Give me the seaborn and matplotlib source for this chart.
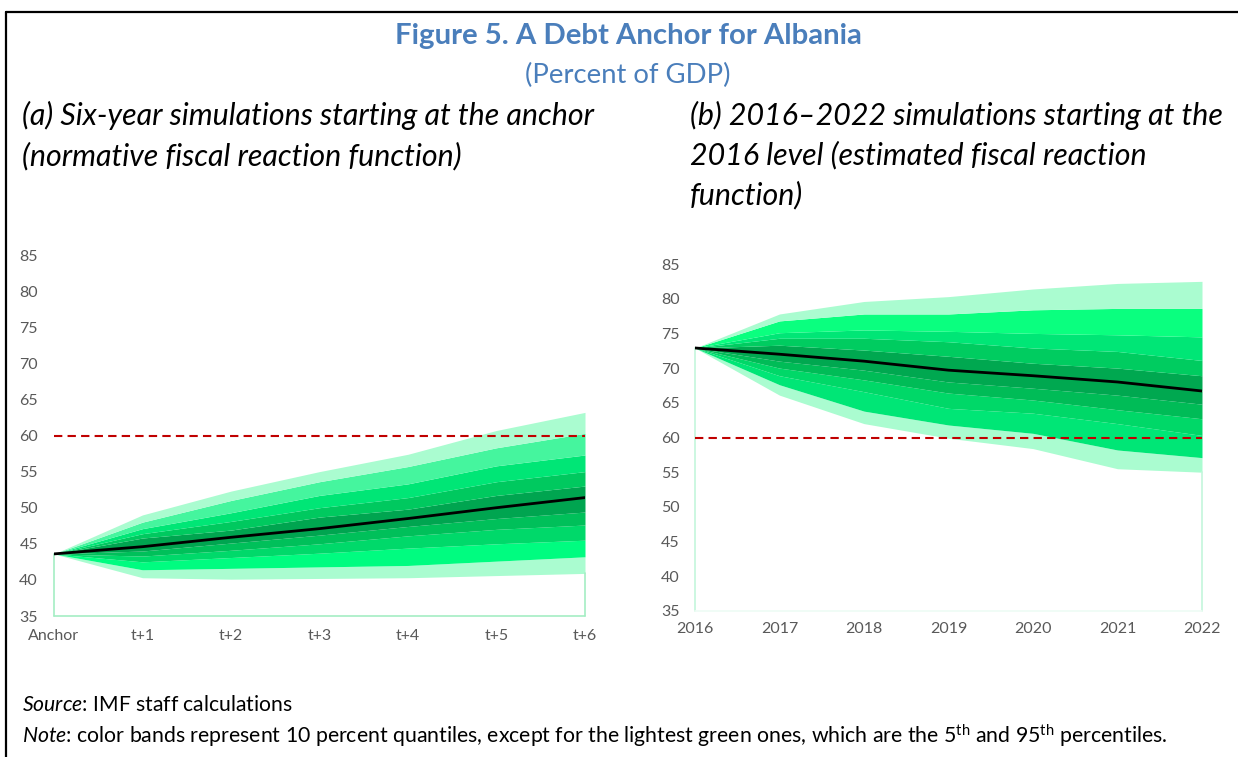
import matplotlib
matplotlib.use("Agg")
import matplotlib.pyplot as plt
from matplotlib.lines import Line2D
import seaborn as sns

# ---- Panel (a): six-year simulations from the anchor (percent of GDP) ----
a_labels = ["Anchor", "t+1", "t+2", "t+3", "t+4", "t+5", "t+6"]
a_p05 = [43.6, 40.3, 40.1, 40.2, 40.3, 40.6, 40.9]
a_p10 = [43.6, 41.4, 41.6, 41.8, 42.0, 42.6, 43.2]
a_p20 = [43.6, 42.5, 43.1, 43.7, 44.4, 45.0, 45.5]
a_p30 = [43.6, 43.3, 44.1, 45.0, 46.1, 47.0, 47.6]
a_p40 = [43.6, 44.0, 45.1, 46.2, 47.4, 48.5, 49.4]
a_p50 = [43.6, 44.6, 45.9, 47.1, 48.5, 50.0, 51.4]
a_p60 = [43.6, 45.8, 46.9, 48.7, 49.8, 51.7, 53.0]
a_p70 = [43.6, 46.4, 48.1, 50.0, 51.4, 53.6, 55.0]
a_p80 = [43.6, 47.1, 49.3, 51.7, 53.3, 55.8, 57.3]
a_p90 = [43.6, 48.0, 51.0, 53.6, 55.7, 58.3, 60.3]
a_p95 = [43.6, 49.0, 52.3, 55.0, 57.4, 60.7, 63.2]

# ---- Panel (b): 2016-2022 simulations from the 2016 level ----
b_labels = ["2016", "2017", "2018", "2019", "2020", "2021", "2022"]
b_p05 = [72.9, 66.1, 62.0, 59.9, 58.4, 55.5, 55.0]
b_p10 = [72.9, 67.6, 63.8, 61.8, 60.6, 58.2, 57.1]
b_p20 = [72.9, 68.9, 66.6, 64.2, 63.5, 62.0, 60.3]
b_p30 = [72.9, 70.0, 68.3, 66.4, 65.4, 64.0, 62.7]
b_p40 = [72.9, 71.0, 69.7, 68.0, 67.1, 66.1, 64.8]
b_p50 = [72.9, 72.0, 71.0, 69.7, 68.9, 68.0, 66.7]
b_p60 = [72.9, 73.3, 72.6, 71.7, 70.7, 70.0, 68.9]
b_p70 = [72.9, 74.3, 74.3, 73.8, 72.9, 72.4, 71.1]
b_p80 = [72.9, 75.1, 75.5, 75.3, 75.0, 74.8, 74.5]
b_p90 = [72.9, 76.8, 77.8, 77.8, 78.4, 78.6, 78.6]
b_p95 = [72.9, 77.8, 79.6, 80.3, 81.4, 82.2, 82.5]

debt_anchor = 60

# Band colours, from the 5th-10th band up to the 90th-95th band
a_colors = ["#aafcd0", "#00fc80", "#00d96a", "#00c05a", "#00a550",
            "#00a550", "#00c95f", "#00e676", "#45f59e", "#aafcd0"]
b_colors = ["#aafcd0", "#00e676", "#00d868", "#00bc57", "#00a850",
            "#00a850", "#00cc60", "#00e676", "#0aff7f", "#aafcd0"]

sns.set_theme(style="white")
plt.rcParams["font.family"] = ["Lato", "DejaVu Sans"]
plt.rcParams["mathtext.fontset"] = "custom"
plt.rcParams["mathtext.rm"] = "Lato"
plt.rcParams["mathtext.it"] = "Lato:italic"

W, H = 1238, 757
fig = plt.figure(figsize=(W / 100, H / 100), dpi=100)
fig.patch.set_facecolor("white")
renderer = fig.canvas.get_renderer()


def axes_px(left, top, right, bottom):
    return fig.add_axes([left / W, 1 - bottom / H, (right - left) / W, (bottom - top) / H])


def fit_width(txt, width_px):
    bb = txt.get_window_extent(renderer)
    txt.set_fontsize(txt.get_fontsize() * width_px / bb.width)


def fan(ax, labels, qs, colors, median, outline, base_line, ypad, xpad):
    xs = list(range(len(labels)))
    for lo, hi, c in zip(qs[:-1], qs[1:], colors):
        ax.fill_between(xs, lo, hi, color=c, linewidth=0, zorder=2)
    sns.lineplot(x=xs, y=median, ax=ax, color="black", linewidth=2, zorder=4)
    ax.axhline(debt_anchor, color="#c00000", linewidth=1.5, dashes=(4, 2.5), zorder=5)
    ax.set_ylim(35, 85)
    ax.set_xlim(xs[0], xs[-1])
    ymin = ax.get_ylim()[0]
    # outline of the base area under the fan
    ax.plot([xs[0], xs[0]], [qs[0][0], ymin], color=outline, linewidth=1.2,
            zorder=3, clip_on=False)
    ax.plot([xs[-1], xs[-1]], [qs[0][-1], ymin], color=outline, linewidth=1.2,
            zorder=3, clip_on=False)
    ax.plot([xs[0], xs[-1]], [ymin, ymin], color=base_line, linewidth=1.2,
            zorder=3, clip_on=False)
    ax.set_yticks(range(35, 90, 5))
    ax.set_xticks(xs)
    ax.set_xticklabels(labels)
    for s in ax.spines.values():
        s.set_visible(False)
    ax.tick_params(axis="y", length=0, pad=ypad, labelsize=11.5, labelcolor="#595959")
    ax.tick_params(axis="x", length=0, pad=xpad, labelsize=11.5, labelcolor="#595959")
    ax.grid(False)
    ax.set_facecolor("none")


ax_a = axes_px(54, 255, 585, 616)
fan(ax_a, a_labels,
    [a_p05, a_p10, a_p20, a_p30, a_p40, a_p50, a_p60, a_p70, a_p80, a_p90, a_p95],
    a_colors, a_p50, "#a4eec4", "#a4eec4", ypad=11.5, xpad=9)

ax_b = axes_px(695, 264, 1202, 611)
fan(ax_b, b_labels,
    [b_p05, b_p10, b_p20, b_p30, b_p40, b_p50, b_p60, b_p70, b_p80, b_p90, b_p95],
    b_colors, b_p50, "#c4f6dc", "#eefcf5", ypad=11, xpad=8)

# Titles
blue = "#4a7ebb"
t = fig.text(628 / W, 1 - 36 / H, "Figure 5. A Debt Anchor for Albania",
             ha="center", va="center", fontsize=15, fontweight="bold", color=blue)
fit_width(t, 470)
t = fig.text(628 / W, 1 - 75 / H, "(Percent of GDP)",
             ha="center", va="center", fontsize=14, color=blue)
fit_width(t, 206)

ta = fig.text(22 / W, 1 - 115 / H, "(a) Six-year simulations starting at the anchor",
              ha="left", va="center", fontsize=17, style="italic", color="black")
fit_width(ta, 572)
size = ta.get_fontsize()
fig.text(22 / W, 1 - 156 / H, "(normative fiscal reaction function)",
         ha="left", va="center", fontsize=size, style="italic", color="black")
for i, line in enumerate(["(b) 2016\u20132022 simulations starting at the",
                          "2016 level (estimated fiscal reaction",
                          "function)"]):
    fig.text(690 / W, 1 - (115 + 40 * i) / H, line,
             ha="left", va="center", fontsize=size, style="italic", color="black")

# Source and note
t = fig.text(22 / W, 1 - 705 / H, r"$\mathit{Source}$: IMF staff calculations",
             ha="left", va="center", fontsize=12, color="black")
fit_width(t, 270)
t = fig.text(22 / W, 1 - 736 / H,
             r"$\mathit{Note}$: color bands represent 10 percent quantiles, except for the "
             r"lightest green ones, which are the 5$^{\mathrm{th}}$ and 95$^{\mathrm{th}}$ percentiles.",
             ha="left", va="center", fontsize=12, color="black")
fit_width(t, 1145)

# Frame
fig.add_artist(Line2D([6 / W, 6 / W], [0, 1 - 12 / H], color="black", linewidth=1.6))
fig.add_artist(Line2D([6 / W, 1], [1 - 12 / H, 1 - 12 / H], color="black", linewidth=1.6))

fig.savefig("out.png", dpi=100, facecolor="white")
